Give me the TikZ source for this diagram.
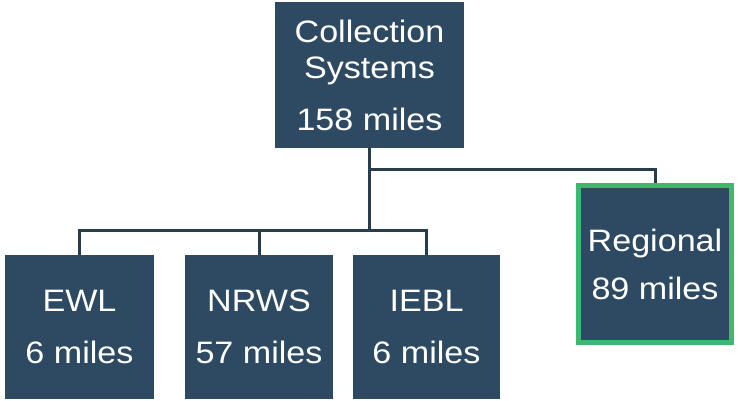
\documentclass[tikz,border=0pt]{standalone}
\usepackage{fontspec}
\setmainfont{Liberation Sans}[FakeStretch=1.1]
\definecolor{boxfill}{RGB}{46,74,98}
\definecolor{linecol}{RGB}{40,60,75}
\definecolor{regborder}{RGB}{62,184,110}
\begin{document}
\begin{tikzpicture}[x=1pt,y=-1pt,
  box/.style={rectangle, fill=boxfill, inner sep=0pt, text=white, align=center,
    font=\fontsize{31}{52}\selectfont},
  conn/.style={draw=linecol, line width=3pt}]
\useasboundingbox (0,0) rectangle (740,401);
\fill[white] (0,0) rectangle (740,401);
\node[box, minimum width=189pt, minimum height=146pt] (top) at (369.5,75)
  {Collection\\[-16pt]Systems\\158 miles};
\node[box, minimum width=149pt, minimum height=144pt] (ewl) at (79.5,327) {EWL\\6 miles};
\node[box, minimum width=148pt, minimum height=144pt] (nrws) at (259,327) {NRWS\\57 miles};
\node[box, minimum width=147pt, minimum height=144pt] (iebl) at (426.5,327) {IEBL\\6 miles};
\node[box, draw=regborder, line width=5pt, minimum width=153pt, minimum height=157pt,
  font=\fontsize{31}{48}\selectfont] (reg) at (655,264) {Regional\\89 miles};
\coordinate (bar) at (369.5,231);
\coordinate (bar2) at (369.5,170);
\draw[conn] (top.south) -- (bar);
\draw[conn] (ewl.north) |- (bar) -| (iebl.north);
\draw[conn] (nrws.north) -- (nrws.north |- bar);
\draw[conn] (bar2) -| (reg.north);
\end{tikzpicture}
\end{document}
